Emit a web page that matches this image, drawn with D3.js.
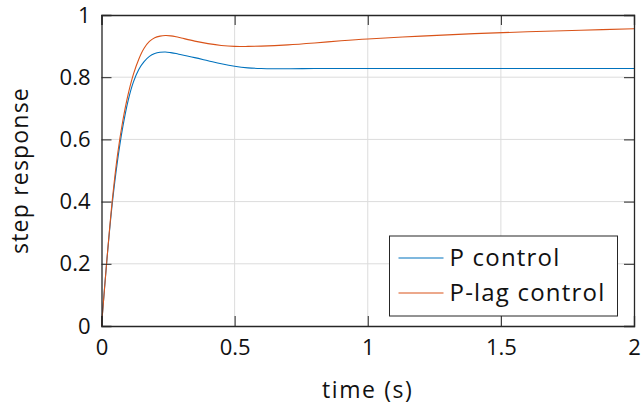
<!DOCTYPE html>
<html>
<head>
<meta charset="utf-8">
<script src="https://cdn.jsdelivr.net/npm/d3@7"></script>
<style>
  body { margin: 0; background: #fff; }
  svg text { font-family: "Humor Sans", "Open Sans", "DejaVu Sans", sans-serif; fill: #111; }
</style>
</head>
<body>
<svg id="chart" width="641" height="408"></svg>
<script>
// values
const time = [0, 0.02, 0.04, 0.06, 0.08, 0.10, 0.12, 0.14, 0.16, 0.18, 0.20, 0.22, 0.24, 0.26, 0.28, 0.30,
              0.35, 0.40, 0.45, 0.50, 0.55, 0.60, 0.70, 0.80, 0.90, 1.0, 1.2, 1.4, 1.6, 1.8, 2.0];
const pControl = [0, 0.21, 0.39, 0.53, 0.64, 0.725, 0.785, 0.825, 0.850, 0.867, 0.876, 0.880, 0.881, 0.879, 0.876, 0.872,
                  0.863, 0.853, 0.843, 0.835, 0.830, 0.828, 0.827, 0.828, 0.828, 0.828, 0.828, 0.828, 0.828, 0.828, 0.828];
const pLagControl = [0, 0.21, 0.40, 0.55, 0.66, 0.745, 0.81, 0.858, 0.893, 0.915, 0.927, 0.932, 0.934, 0.933, 0.930, 0.926,
                     0.916, 0.908, 0.902, 0.899, 0.899, 0.900, 0.904, 0.910, 0.917, 0.923, 0.932, 0.940, 0.946, 0.951, 0.956];
const xTicks = [0, 0.5, 1, 1.5, 2];
const yTicks = [0, 0.2, 0.4, 0.6, 0.8, 1];
const seriesNames = ["P control", "P-lag control"];
const colors = ["#0072BD", "#D95319"];

const svg = d3.select("#chart");
const margin = {top: 15, right: 7, bottom: 82, left: 101.5};
const width = 641, height = 408;

const x = d3.scaleLinear().domain([0, 2]).range([margin.left, width - margin.right]);
const y = d3.scaleLinear().domain([0, 1]).range([height - margin.bottom, margin.top]);

const fmt = d => String(d);

// grid
svg.append("g")
    .selectAll("line")
    .data(xTicks.slice(1, -1))
    .join("line")
    .attr("x1", d => x(d)).attr("x2", d => x(d))
    .attr("y1", y(0)).attr("y2", y(1))
    .attr("stroke", "#dcdcdc").attr("stroke-width", 1);

svg.append("g")
    .selectAll("line")
    .data(yTicks.slice(1, -1))
    .join("line")
    .attr("x1", x(0)).attr("x2", x(2))
    .attr("y1", d => y(d)).attr("y2", d => y(d))
    .attr("stroke", "#dcdcdc").attr("stroke-width", 1);

// data lines
const line = d3.line()
    .x((d, i) => x(time[i]))
    .y(d => y(d))
    .curve(d3.curveCatmullRom.alpha(0.5));

[pControl, pLagControl].forEach((s, k) => {
    svg.append("path")
        .datum(s)
        .attr("fill", "none")
        .attr("stroke", colors[k])
        .attr("stroke-width", 1.1)
        .attr("d", line);
});

// axes, ticks inward, box on
const tickLen = 10;
const axisColor = "#262626";

svg.append("g")
    .attr("transform", `translate(0,${y(0)})`)
    .call(d3.axisBottom(x).tickValues(xTicks).tickFormat(fmt).tickSize(-tickLen))
    .call(g => g.select(".domain").attr("stroke", axisColor))
    .call(g => g.selectAll(".tick line").attr("stroke", axisColor))
    .call(g => g.selectAll(".tick text").attr("font-size", 22).attr("dy", "0.75em").attr("y", 12));

svg.append("g")
    .attr("transform", `translate(0,${y(1)})`)
    .call(d3.axisTop(x).tickValues(xTicks).tickFormat("").tickSize(-tickLen))
    .call(g => g.select(".domain").attr("stroke", axisColor))
    .call(g => g.selectAll(".tick line").attr("stroke", axisColor));

svg.append("g")
    .attr("transform", `translate(${x(0)},0)`)
    .call(d3.axisLeft(y).tickValues(yTicks).tickFormat(fmt).tickSize(-tickLen).tickPadding(11))
    .call(g => g.select(".domain").attr("stroke", axisColor))
    .call(g => g.selectAll(".tick line").attr("stroke", axisColor))
    .call(g => g.selectAll(".tick text").attr("font-size", 22));

svg.append("g")
    .attr("transform", `translate(${x(2)},0)`)
    .call(d3.axisRight(y).tickValues(yTicks).tickFormat("").tickSize(-tickLen))
    .call(g => g.select(".domain").attr("stroke", axisColor))
    .call(g => g.selectAll(".tick line").attr("stroke", axisColor));

svg.selectAll(".domain").attr("stroke-width", 1.3);

// axis titles
svg.append("text")
    .attr("x", (x(0) + x(2)) / 2)
    .attr("y", 398)
    .attr("text-anchor", "middle")
    .attr("font-size", 23)
    .attr("letter-spacing", 1.6)
    .text("time (s)");

svg.append("text")
    .attr("transform", `translate(28,${(y(0) + y(1)) / 2}) rotate(-90)`)
    .attr("text-anchor", "middle")
    .attr("font-size", 23)
    .attr("letter-spacing", 1.2)
    .text("step response");

// legend
const legend = svg.append("g").attr("transform", "translate(389.5,236)");
legend.append("rect")
    .attr("width", 228).attr("height", 80)
    .attr("fill", "#fff").attr("stroke", axisColor).attr("stroke-width", 1);

seriesNames.forEach((name, k) => {
    const cy = 22 + k * 35;
    legend.append("line")
        .attr("x1", 9).attr("x2", 54)
        .attr("y1", cy).attr("y2", cy)
        .attr("stroke", colors[k]).attr("stroke-width", 1.1);
    legend.append("text")
        .attr("x", 60).attr("y", cy)
        .attr("dy", "0.35em")
        .attr("font-size", 24)
        .attr("letter-spacing", 1.2)
        .text(name);
});
</script>
</body>
</html>
